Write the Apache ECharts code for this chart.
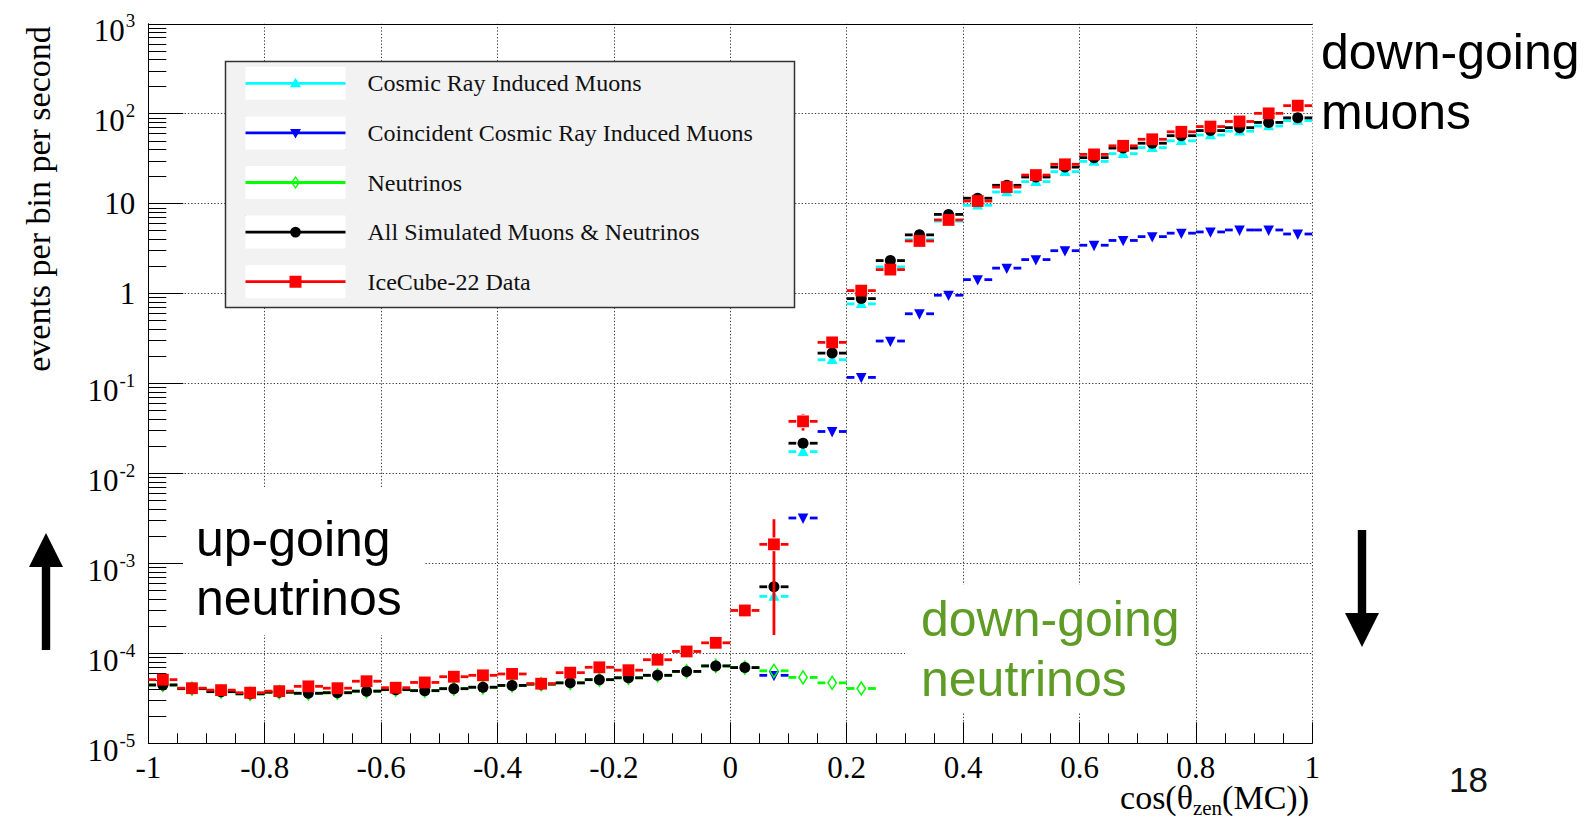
<!DOCTYPE html>
<html>
<head>
<meta charset="utf-8">
<title>Zenith distribution, IceCube-22</title>
<script src="https://cdn.jsdelivr.net/npm/echarts@6/dist/echarts.min.js"></script>
<style>
  html, body { margin: 0; padding: 0; background: #ffffff; }
  #chart { width: 1591px; height: 818px; }
</style>
</head>
<body>
<div id="chart"></div>
<script>
// ---- Histogram data: 40 bins in cos(zenith), width 0.05 ----
const binCenters = [
  -0.975, -0.925, -0.875, -0.825, -0.775, -0.725, -0.675, -0.625, -0.575, -0.525,
  -0.475, -0.425, -0.375, -0.325, -0.275, -0.225, -0.175, -0.125, -0.075, -0.025,
   0.025,  0.075,  0.125,  0.175,  0.225,  0.275,  0.325,  0.375,  0.425,  0.475,
   0.525,  0.575,  0.625,  0.675,  0.725,  0.775,  0.825,  0.875,  0.925,  0.975
];
const binHalfWidth = 0.025;

// events per bin per second
const cosmicMuons = [
  null, null, null, null, null, null, null, null, null, null,
  null, null, null, null, null, null, null, null, null, null,
  null, 4.3e-4, 0.0175, 0.184, 0.77, 1.98, 3.98, 6.4, 9.6, 13.5,
  17.6, 22.7, 29.5, 36, 42, 50, 58, 64, 73, 84
];
const coincidentMuons = [
  null, null, null, null, null, null, null, null, null, null,
  null, null, null, null, null, null, null, null, null, null,
  null, 5.7e-5, 3.2e-3, 0.0293, 0.117, 0.297, 0.597, 0.96, 1.43, 1.92,
  2.39, 3.0, 3.45, 3.9, 4.3, 4.7, 4.85, 5.1, 5.1, 4.6
];
const neutrinos = [
  4.45e-5, 4.05e-5, 3.75e-5, 3.55e-5, 3.7e-5, 3.6e-5, 3.65e-5, 3.8e-5, 3.95e-5, 3.85e-5,
  4.05e-5, 4.2e-5, 4.4e-5, 4.55e-5, 4.7e-5, 5.1e-5, 5.35e-5, 5.7e-5, 6.3e-5, 7.25e-5,
  6.95e-5, 6.4e-5, 5.4e-5, 4.7e-5, 4.07e-5, null, null, null, null, null,
  null, null, null, null, null, null, null, null, null, null
];
const allSimulated = [
  4.45e-5, 4.05e-5, 3.75e-5, 3.55e-5, 3.7e-5, 3.6e-5, 3.65e-5, 3.8e-5, 3.95e-5, 3.85e-5,
  4.05e-5, 4.2e-5, 4.4e-5, 4.55e-5, 4.7e-5, 5.1e-5, 5.35e-5, 5.7e-5, 6.3e-5, 7.25e-5,
  6.95e-5, 5.5e-4, 0.0217, 0.218, 0.88, 2.33, 4.5, 7.6, 11.5, 16,
  19.8, 25.5, 32.5, 41.5, 47, 57, 65, 70, 80, 90
];
const icecubeData = [
  5.1e-5, 4.1e-5, 3.9e-5, 3.65e-5, 3.8e-5, 4.3e-5, 4.1e-5, 4.9e-5, 4.15e-5, 4.75e-5,
  5.5e-5, 5.7e-5, 5.9e-5, 4.6e-5, 6.1e-5, 7.0e-5, 6.5e-5, 8.5e-5, 1.05e-4, 1.31e-4,
  3.0e-4, 1.63e-3, 0.038, 0.287, 1.08, 1.85, 3.85, 6.6, 10.7, 15.3,
  20.8, 27.4, 35.3, 44, 52, 63, 72, 82, 101, 123
];
// statistical uncertainty of the data (absolute)
const icecubeDataErr = [
  7.5e-6, 6.5e-6, 6e-6, 6e-6, 6e-6, 6.5e-6, 6.5e-6, 7e-6, 6.5e-6, 7e-6,
  8e-6, 8e-6, 8.5e-6, 7.5e-6, 9e-6, 1e-5, 9.5e-6, 1.1e-5, 1.3e-5, 1.5e-5,
  3.5e-5, 1.47e-3, 0.008, 0.037, 0.13, 0.15, 0.2, 0.25, 0.3, 0.35,
  0.4, 0.45, 0.5, 0.55, 0.6, 0.7, 0.75, 0.8, 0.9, 1.0
];

const seriesNames = [
  'Cosmic Ray Induced Muons',
  'Coincident Cosmic Ray Induced Muons',
  'Neutrinos',
  'All Simulated Muons & Neutrinos',
  'IceCube-22 Data'
];

// axis ticks
const xTickValues = [-1, -0.8, -0.6, -0.4, -0.2, 0, 0.2, 0.4, 0.6, 0.8, 1];
const xTickLabels = ['-1', '-0.8', '-0.6', '-0.4', '-0.2', '0', '0.2', '0.4', '0.6', '0.8', '1'];
const yTickValues = [1e-5, 1e-4, 1e-3, 1e-2, 1e-1, 1, 10, 100, 1000];
const yTickLabels = [
  ['10', '-5'], ['10', '-4'], ['10', '-3'], ['10', '-2'], ['10', '-1'],
  ['1', ''], ['10', ''], ['10', '2'], ['10', '3']
];

// ---- Drawing ----
const SERIF = '"Liberation Serif", "DejaVu Serif", serif';
const SANS = '"Liberation Sans", Arial, sans-serif';
const GAP = 6.8;      // error bars stop short of the marker
const BAR_W = 2.8;

function drawMarker(kind, cx, cy, color) {
  switch (kind) {
    case 'circle':
      return { type: 'circle', shape: { cx: cx, cy: cy, r: 5.5 }, style: { fill: color } };
    case 'square':
      return { type: 'rect', shape: { x: cx - 5.9, y: cy - 5.9, width: 11.8, height: 11.8 }, style: { fill: color } };
    case 'triangleUp':
      return { type: 'polygon', shape: { points: [[cx, cy - 5.8], [cx + 5.5, cy + 4.3], [cx - 5.5, cy + 4.3]] }, style: { fill: color } };
    case 'triangleDown':
      return { type: 'polygon', shape: { points: [[cx - 5.3, cy - 4.4], [cx + 5.3, cy - 4.4], [cx, cy + 5.9]] }, style: { fill: color } };
    default:
      return { type: 'polygon', shape: { points: [[cx, cy - 6.5], [cx + 4.2, cy], [cx, cy + 6.5], [cx - 4.2, cy]] }, style: { fill: 'none', stroke: color, lineWidth: 1.5 } };
  }
}

function makeSeries(name, color, values, errors, marker) {
  const data = [];
  values.forEach(function (v, i) {
    if (v == null) return;
    const e = errors ? errors[i] : 0;
    data.push([binCenters[i], v, v - e, v + e]);
  });
  return {
    type: 'custom',
    name: name,
    data: data,
    xAxisIndex: 0,
    yAxisIndex: 0,
    encode: { x: 0, y: 1 },
    itemStyle: { color: color },
    renderItem: function (params, api) {
      const x = api.value(0), y = api.value(1), lo = api.value(2), hi = api.value(3);
      const c = api.coord([x, y]);
      const xl = api.coord([x - binHalfWidth, y])[0];
      const xr = api.coord([x + binHalfWidth, y])[0];
      const ls = { stroke: color, lineWidth: BAR_W };
      const children = [];
      if (c[0] - GAP > xl) children.push({ type: 'line', shape: { x1: xl, y1: c[1], x2: c[0] - GAP, y2: c[1] }, style: ls });
      if (xr > c[0] + GAP) children.push({ type: 'line', shape: { x1: c[0] + GAP, y1: c[1], x2: xr, y2: c[1] }, style: ls });
      if (hi > y) {
        const yt = api.coord([x, hi])[1];
        if (yt < c[1] - GAP) children.push({ type: 'line', shape: { x1: c[0], y1: c[1] - GAP, x2: c[0], y2: yt }, style: ls });
      }
      if (lo < y && lo > 0) {
        const yb = api.coord([x, lo])[1];
        if (yb > c[1] + GAP) children.push({ type: 'line', shape: { x1: c[0], y1: c[1] + GAP, x2: c[0], y2: yb }, style: ls });
      }
      children.push(drawMarker(marker, c[0], c[1], color));
      return { type: 'group', children: children };
    }
  };
}

// legend icons: line through a marker, framed in a 100 x 33 box
const ICON_FRAME = 'M0 0L0.3 0L0 0.3Z M100 33L99.7 33L100 32.7Z ';
const ICON_LINE = 'M0 15.1H100V17.9H0Z ';
const legendIcons = [
  'path://' + ICON_FRAME + ICON_LINE + 'M50 11L55.5 20.5L44.5 20.5Z',
  'path://' + ICON_FRAME + ICON_LINE + 'M44.5 12.5L55.5 12.5L50 22Z',
  'path://' + ICON_FRAME + ICON_LINE + 'M50 10L54.5 16.5L50 23L45.5 16.5Z M50 12.3L47.1 16.5L50 20.7L52.9 16.5Z',
  'path://' + ICON_FRAME + ICON_LINE + 'M44.6 16.5A5.4 5.4 0 1 1 55.4 16.5A5.4 5.4 0 1 1 44.6 16.5Z',
  'path://' + ICON_FRAME + ICON_LINE + 'M44 10.5H56V22.5H44Z'
];

const legendLeft = 245.5, legendTop = 66.8, legendRowH = 33, legendGap = 16.6;
const swatches = seriesNames.map(function (n, i) {
  return {
    type: 'rect', z: 3, z2: 2, silent: true,
    shape: { x: legendLeft, y: legendTop + i * (legendRowH + legendGap), width: 100, height: legendRowH },
    style: { fill: '#ffffff' }
  };
});

function arrow(cx, tipY, tailY) {
  const dir = tipY < tailY ? 1 : -1;          // 1: pointing up
  const headBase = tipY + dir * 34;
  return {
    type: 'polygon', z: 5, silent: true,
    shape: { points: [
      [cx, tipY], [cx + 17, headBase], [cx + 4.2, headBase], [cx + 4.2, tailY],
      [cx - 4.2, tailY], [cx - 4.2, headBase], [cx - 17, headBase]
    ] },
    style: { fill: '#000000' }
  };
}

const chart = echarts.init(document.getElementById('chart'), null, { renderer: 'svg', width: 1591, height: 818 });

const splitStyle = { color: '#3a3a3a', width: 1, type: [1.3, 2] };

chart.setOption({
  animation: false,
  backgroundColor: '#ffffff',
  textStyle: { fontFamily: SERIF },
  grid: { left: 148.3, top: 23.8, width: 1164, height: 719.5, containLabel: false },
  legend: {
    orient: 'vertical',
    left: legendLeft,
    top: legendTop,
    padding: 0,
    itemWidth: 100,
    itemHeight: legendRowH,
    itemGap: legendGap,
    itemStyle: { borderWidth: 0 },
    textStyle: { fontFamily: SERIF, fontSize: 24, color: '#111111', padding: [0, 0, 0, 17] },
    data: seriesNames.map(function (n, i) { return { name: n, icon: legendIcons[i] }; })
  },
  xAxis: [
    {
      type: 'value', min: -1, max: 1, interval: 0.2, position: 'bottom',
      axisLine: { show: true, onZero: false, lineStyle: { color: '#000', width: 1 } },
      axisTick: { show: true, inside: true, length: 21, lineStyle: { color: '#000', width: 1 } },
      minorTick: { show: true, splitNumber: 4, length: 10, lineStyle: { color: '#000', width: 1 } },
      splitLine: { show: true, lineStyle: splitStyle },
      axisLabel: {
        margin: 11.5, fontSize: 31, lineHeight: 26, fontFamily: SERIF, color: '#000',
        formatter: function (v) {
          const i = xTickValues.findIndex(function (t) { return Math.abs(t - v) < 1e-9; });
          return i >= 0 ? xTickLabels[i] : '';
        }
      }
    },
    {
      type: 'value', min: -1, max: 1, position: 'top',
      axisLine: { show: true, onZero: false, lineStyle: { color: '#000', width: 1 } },
      axisTick: { show: false }, axisLabel: { show: false }, splitLine: { show: false }
    }
  ],
  yAxis: {
    type: 'log', logBase: 10, min: 1e-5, max: 1e3, splitNumber: 8, position: 'left',
    axisLine: { show: true, onZero: false, lineStyle: { color: '#000', width: 1 } },
    axisTick: { show: true, inside: true, length: 35, lineStyle: { color: '#000', width: 1 } },
    minorTick: { show: true, splitNumber: 9, length: 18, lineStyle: { color: '#000', width: 1 } },
    splitLine: { show: true, lineStyle: splitStyle },
    axisLabel: {
      margin: 13, color: '#000', fontFamily: SERIF,
      formatter: function (v) {
        const i = yTickValues.findIndex(function (t) { return Math.abs(Math.log10(t) - Math.log10(v)) < 1e-6; });
        if (i < 0) return '';
        const lab = yTickLabels[i];
        if (!lab[1]) return '{p|' + lab[0] + '}';
        return '{b|' + lab[0] + '}{s|' + lab[1] + '}';
      },
      rich: {
        p: { fontSize: 31, lineHeight: 31, fontFamily: SERIF, color: '#000' },
        b: { fontSize: 31, lineHeight: 45, verticalAlign: 'bottom', fontFamily: SERIF, color: '#000' },
        s: { fontSize: 19, height: 19, lineHeight: 19, padding: [10, 0, 0, 1], verticalAlign: 'top', fontFamily: SERIF, color: '#000' }
      }
    }
  },
  graphic: [
    // legend frame
    { type: 'rect', z: 3, z2: 1, silent: true,
      shape: { x: 225.5, y: 61.5, width: 569, height: 246 },
      style: { fill: '#f2f2f2', stroke: '#333333', lineWidth: 1.5 } }
  ].concat(swatches).concat([
    // white panels behind the annotations
    { type: 'rect', z: 3, silent: true, shape: { x: 183, y: 487, width: 242, height: 148 }, style: { fill: '#ffffff' } },
    { type: 'rect', z: 3, silent: true, shape: { x: 905, y: 585, width: 290, height: 127 }, style: { fill: '#ffffff' } },
    { type: 'rect', z: 3, silent: true, shape: { x: 1312.6, y: 24.5, width: 278, height: 126 }, style: { fill: '#ffffff' } },
    // annotations
    { type: 'text', z: 5, silent: true, x: 196, y: 509,
      style: { text: 'up-going\nneutrinos', font: '50px ' + SANS, fill: '#000000', lineHeight: 59, verticalAlign: 'top' } },
    { type: 'text', z: 5, silent: true, x: 921, y: 589,
      style: { text: 'down-going\nneutrinos', font: '50px ' + SANS, fill: '#5e9c26', lineHeight: 60, verticalAlign: 'top' } },
    { type: 'text', z: 5, silent: true, x: 1321, y: 22,
      style: { text: 'down-going\nmuons', font: '50px ' + SANS, fill: '#000000', lineHeight: 60, verticalAlign: 'top' } },
    { type: 'text', z: 5, silent: true, x: 1449, y: 779,
      style: { text: '18', font: '35px ' + SANS, fill: '#111111', verticalAlign: 'middle' } },
    arrow(46, 533, 650),
    arrow(1362, 647, 530),
    // axis titles
    { type: 'text', z: 5, silent: true, x: 38, y: 199, rotation: Math.PI / 2,
      style: { text: 'events per bin per second', font: '34px ' + SERIF, fill: '#000000', align: 'center', verticalAlign: 'middle' } },
    { type: 'text', z: 5, silent: true, x: 1309, y: 797,
      style: {
        text: '{a|cos(θ}{s|zen}{a|(MC))}', align: 'right', verticalAlign: 'middle',
        rich: {
          a: { fontSize: 34, lineHeight: 26, fontFamily: SERIF, fill: '#000000' },
          s: { fontSize: 21, height: 5, lineHeight: 5, verticalAlign: 'bottom', fontFamily: SERIF, fill: '#000000' }
        }
      } }
  ]),
  series: [
    makeSeries(seriesNames[0], '#00ffff', cosmicMuons, null, 'triangleUp'),
    makeSeries(seriesNames[1], '#0000ff', coincidentMuons, null, 'triangleDown'),
    makeSeries(seriesNames[2], '#00ff00', neutrinos, null, 'openDiamond'),
    makeSeries(seriesNames[3], '#000000', allSimulated, null, 'circle'),
    makeSeries(seriesNames[4], '#ff0000', icecubeData, icecubeDataErr, 'square')
  ]
});
</script>
</body>
</html>
